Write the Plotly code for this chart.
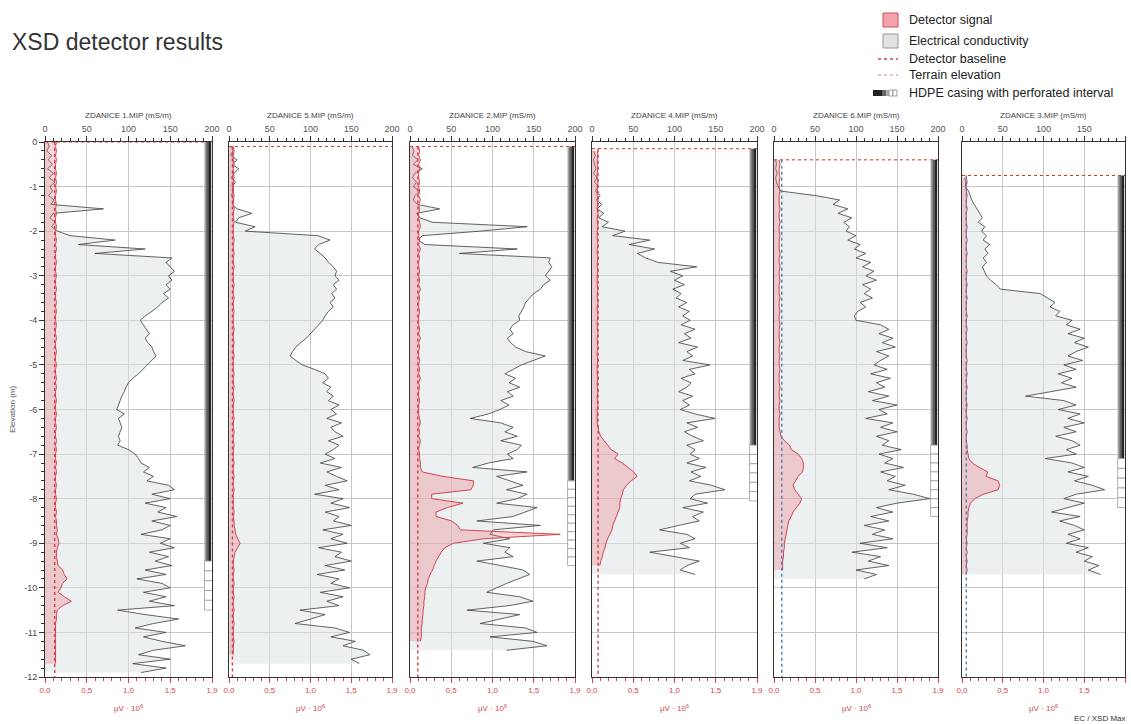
import plotly.graph_objects as go

W, H = 1131, 724

# ---------------- data ----------------
panel_names = ["ZDANICE 1.MIP (mS/m)", "ZDANICE 5.MIP (mS/m)", "ZDANICE 2.MIP (mS/m)",
               "ZDANICE 4.MIP (mS/m)", "ZDANICE 6.MIP (mS/m)", "ZDANICE 3.MIP (mS/m)"]

depth_grid = [
    0.0, -0.1, -0.2, -0.3, -0.4, -0.5, -0.6, -0.7, -0.8, -0.9,
    -1.0, -1.1, -1.2, -1.3, -1.4, -1.5, -1.6, -1.7, -1.8, -1.9,
    -2.0, -2.1, -2.2, -2.3, -2.4, -2.5, -2.6, -2.7, -2.8, -2.9,
    -3.0, -3.1, -3.2, -3.3, -3.4, -3.5, -3.6, -3.7, -3.8, -3.9,
    -4.0, -4.1, -4.2, -4.3, -4.4, -4.5, -4.6, -4.7, -4.8, -4.9,
    -5.0, -5.1, -5.2, -5.3, -5.4, -5.5, -5.6, -5.7, -5.8, -5.9,
    -6.0, -6.1, -6.2, -6.3, -6.4, -6.5, -6.6, -6.7, -6.8, -6.9,
    -7.0, -7.1, -7.2, -7.3, -7.4, -7.5, -7.6, -7.7, -7.8, -7.9,
    -8.0, -8.1, -8.2, -8.3, -8.4, -8.5, -8.6, -8.7, -8.8, -8.9,
    -9.0, -9.1, -9.2, -9.3, -9.4, -9.5, -9.6, -9.7, -9.8, -9.9,
    -10.0, -10.1, -10.2, -10.3, -10.4, -10.5, -10.6, -10.7, -10.8, -10.9,
    -11.0, -11.1, -11.2, -11.3, -11.4, -11.5, -11.6, -11.7, -11.8, -11.9,
    -12.0]

terrain = [0.0, -0.1, -0.1, -0.15, -0.4, -0.75]
baseline = [0.11, 0.04, 0.09, 0.07, 0.09, 0.05]
baseline_blue = [False, False, False, False, True, True]
casing_bottom = [-9.4, None, -7.6, -6.8, -6.8, -7.1]
perforated_bottom = [-10.5, None, -9.5, -8.05, -8.4, -8.2]

ec_start = [0.0, -0.1, -0.1, -0.2, -0.4, -0.8]
det_start = [0.0, -0.1, -0.1, -0.2, -0.4, -0.8]

# Electrical conductivity (mS/m), 0.1 m steps from ec_start
ec1 = [3, 5, 2, 8, 4, 9, 3, 10, 5, 12,
       6, 9, 4, 11, 7, 70, 10, 6, 12, 8,
       15, 30, 84, 40, 120, 60, 152, 145, 150, 155,
       148, 152, 145, 150, 142, 148, 140, 135, 128, 120,
       114, 118, 122, 125, 120, 123, 128, 130, 133, 128,
       122, 118, 112, 105, 100, 97, 95, 92, 90, 88,
       86, 95, 88, 90, 92, 90, 88, 90, 87, 100,
       108, 112, 115, 125, 118, 130, 122, 148, 155, 128,
       150, 120, 145, 135, 158, 128, 150, 140, 115, 150,
       138, 155, 125, 148, 132, 152, 120, 145, 110, 140,
       150, 118, 145, 125, 155, 87, 120, 160, 130, 108,
       145, 118, 140, 168, 130, 112, 150, 105, 145, 115]
ec2 = [3, 5, 2, 10, 4, 12, 6, 3, 8, 4,
       5, 3, 6, 4, 10, 28, 12, 8, 32, 20,
       109, 124, 110, 105, 112, 118, 122, 128, 132, 130,
       135, 128, 132, 126, 130, 124, 128, 122, 118, 115,
       110, 105, 100, 95, 88, 82, 78, 75, 82, 90,
       105, 118, 122, 115, 125, 120, 128, 122, 135, 125,
       132, 120, 138, 125, 130, 140, 122, 135, 128, 118,
       130, 112, 138, 120, 132, 145, 118, 135, 105, 140,
       125, 148, 118, 135, 128, 150, 115, 140, 125, 145,
       110, 138, 130, 150, 118, 142, 108, 135, 125, 148,
       112, 140, 120, 135, 87, 118, 100, 81, 130, 148,
       125, 155, 140, 165, 173, 150, 160]
ec3 = [2, 5, 3, 10, 4, 15, 6, 3, 8, 4,
       12, 6, 4, 9, 36, 8, 12, 27, 142, 85,
       15, 10, 18, 130, 60, 170, 168, 172, 168, 164,
       170, 162, 158, 150, 145, 140, 138, 135, 132, 133,
       125, 121, 125, 118, 122, 128, 140, 164, 150, 135,
       125, 115, 128, 120, 133, 118, 125, 110, 120, 109,
       95, 73, 110, 125, 115, 130, 110, 135, 130, 118,
       125, 95, 76, 142, 105, 120, 137, 117, 142, 130,
       105, 154, 140, 125, 81, 158, 101, 97, 121, 89,
       121, 115, 125, 81, 110, 137, 145, 130, 117, 105,
       93, 133, 149, 120, 69, 133, 110, 85, 140, 154,
       97, 149, 166, 117]
ec4 = [2, 4, 2, 3, 5, 2, 6, 3, 8, 4,
       10, 5, 12, 6, 14, 8, 20, 12, 40, 25,
       70, 45, 76, 55, 65, 80, 127, 95, 110, 100,
       112, 98, 108, 102, 115, 105, 118, 110, 119, 108,
       125, 112, 120, 105, 128, 115, 122, 110, 143, 118,
       125, 108, 120, 115, 105, 122, 110, 118, 107, 125,
       149, 115, 128, 112, 122, 135, 115, 125, 119, 130,
       115, 138, 120, 132, 118, 145, 161, 125, 119, 140,
       110, 135, 122, 130, 105, 82, 115, 125, 107, 118,
       70, 100, 130, 115, 107, 125]
ec5 = [2, 3, 2, 4, 2, 3, 5, 8, 50, 80,
       72, 90, 78, 95, 85, 92, 88, 100, 90, 105,
       98, 112, 100, 118, 108, 122, 112, 125, 108, 118,
       110, 120, 105, 112, 102, 98, 100, 130, 140, 128,
       145, 132, 148, 125, 140, 130, 122, 138, 118, 142,
       125, 135, 115, 140, 120, 150, 128, 138, 112, 145,
       130, 150, 125, 140, 132, 155, 128, 145, 135, 158,
       130, 148, 138, 160, 140, 170, 190, 150, 125, 145,
       118, 140, 110, 135, 120, 145, 105, 138, 95, 130,
       115, 140, 100, 125, 110]
ec6 = [3, 5, 4, 8, 10, 12, 15, 18, 22, 25,
       20, 28, 24, 30, 26, 34, 28, 32, 26, 30,
       25, 28, 30, 35, 42, 47, 96, 105, 114, 108,
       120, 115, 135, 128, 145, 130, 150, 138, 155, 140,
       130, 148, 125, 140, 118, 135, 122, 140, 110, 78,
       125, 140, 118, 145, 130, 150, 125, 140, 115, 135,
       145, 128, 140, 102, 135, 150, 130, 155, 138, 160,
       175, 140, 125, 150, 130, 110, 145, 120, 138, 150,
       130, 145, 128, 155, 140, 160, 150, 168, 155, 170]

# Detector signal (uV x 10^6), 0.1 m steps from det_start
det1 = [0.13, 0.12, 0.13, 0.12, 0.13, 0.12, 0.12, 0.13, 0.12, 0.13,
        0.12, 0.13, 0.12, 0.12, 0.13, 0.12, 0.13, 0.12, 0.12, 0.13,
        0.12, 0.12, 0.13, 0.12, 0.13, 0.12, 0.12, 0.13, 0.12, 0.12,
        0.13, 0.12, 0.12, 0.13, 0.12, 0.12, 0.13, 0.12, 0.13, 0.12,
        0.12, 0.13, 0.12, 0.12, 0.13, 0.12, 0.12, 0.13, 0.12, 0.12,
        0.13, 0.12, 0.12, 0.13, 0.12, 0.13, 0.12, 0.12, 0.13, 0.12,
        0.12, 0.13, 0.12, 0.12, 0.13, 0.12, 0.12, 0.13, 0.12, 0.13,
        0.12, 0.12, 0.13, 0.12, 0.13, 0.12, 0.12, 0.13, 0.12, 0.12,
        0.13, 0.12, 0.12, 0.13, 0.12, 0.13, 0.13, 0.14, 0.13, 0.15,
        0.16, 0.14, 0.13, 0.13, 0.14, 0.15, 0.20, 0.22, 0.25, 0.20,
        0.18, 0.15, 0.22, 0.30, 0.20, 0.14, 0.13, 0.13, 0.12, 0.12,
        0.12, 0.12, 0.12, 0.12, 0.12, 0.12, 0.12, 0.12]
det2 = [0.05, 0.06, 0.05, 0.05, 0.06, 0.05, 0.05, 0.06, 0.05, 0.05,
        0.05, 0.06, 0.05, 0.05, 0.06, 0.05, 0.05, 0.06, 0.05, 0.05,
        0.05, 0.06, 0.05, 0.05, 0.06, 0.05, 0.05, 0.06, 0.05, 0.05,
        0.05, 0.06, 0.05, 0.05, 0.06, 0.05, 0.05, 0.06, 0.05, 0.05,
        0.05, 0.06, 0.05, 0.05, 0.06, 0.05, 0.05, 0.06, 0.05, 0.05,
        0.05, 0.06, 0.05, 0.05, 0.06, 0.05, 0.05, 0.06, 0.05, 0.05,
        0.05, 0.06, 0.05, 0.05, 0.06, 0.05, 0.05, 0.06, 0.05, 0.05,
        0.05, 0.06, 0.05, 0.05, 0.06, 0.05, 0.05, 0.06, 0.05, 0.05,
        0.05, 0.05, 0.06, 0.05, 0.06, 0.06, 0.07, 0.08, 0.10, 0.13,
        0.10, 0.07, 0.06, 0.05, 0.05, 0.06, 0.05, 0.05, 0.06, 0.05,
        0.05, 0.06, 0.05, 0.05, 0.06, 0.05, 0.05, 0.06, 0.05, 0.05,
        0.05, 0.06, 0.05, 0.05, 0.05]
det3 = [0.10, 0.11, 0.10, 0.12, 0.10, 0.11, 0.10, 0.10, 0.11, 0.10,
        0.11, 0.10, 0.12, 0.10, 0.11, 0.10, 0.10, 0.11, 0.12, 0.10,
        0.10, 0.11, 0.10, 0.12, 0.10, 0.11, 0.10, 0.10, 0.11, 0.10,
        0.11, 0.10, 0.12, 0.10, 0.11, 0.10, 0.10, 0.11, 0.10, 0.10,
        0.10, 0.11, 0.10, 0.12, 0.10, 0.11, 0.10, 0.10, 0.11, 0.10,
        0.11, 0.10, 0.12, 0.10, 0.11, 0.10, 0.10, 0.11, 0.10, 0.10,
        0.10, 0.11, 0.12, 0.10, 0.11, 0.10, 0.12, 0.11, 0.10, 0.11,
        0.11, 0.12, 0.12, 0.14, 0.38, 0.73, 0.73, 0.70, 0.25, 0.25,
        0.61, 0.43, 0.30, 0.30, 0.48, 0.55, 0.58, 1.73, 0.85, 0.50,
        0.40, 0.36, 0.33, 0.30, 0.28, 0.26, 0.23, 0.21, 0.20, 0.18,
        0.17, 0.17, 0.16, 0.16, 0.15, 0.15, 0.14, 0.14, 0.13, 0.13,
        0.13, 0.12]
det4 = [0.06, 0.07, 0.06, 0.06, 0.07, 0.06, 0.06, 0.07, 0.06, 0.06,
        0.06, 0.07, 0.06, 0.06, 0.07, 0.06, 0.06, 0.07, 0.06, 0.06,
        0.06, 0.07, 0.06, 0.06, 0.07, 0.06, 0.06, 0.07, 0.06, 0.06,
        0.06, 0.07, 0.06, 0.06, 0.07, 0.06, 0.06, 0.07, 0.06, 0.06,
        0.06, 0.07, 0.06, 0.06, 0.07, 0.06, 0.06, 0.07, 0.06, 0.06,
        0.06, 0.07, 0.06, 0.06, 0.07, 0.06, 0.06, 0.07, 0.06, 0.06,
        0.06, 0.06, 0.07, 0.08, 0.10, 0.14, 0.18, 0.22, 0.30, 0.26,
        0.35, 0.42, 0.48, 0.52, 0.45, 0.40, 0.36, 0.35, 0.33, 0.32,
        0.32, 0.30, 0.28, 0.26, 0.24, 0.23, 0.20, 0.18, 0.16, 0.15,
        0.13, 0.12, 0.10, 0.09]
det5 = [0.06, 0.07, 0.06, 0.06, 0.07, 0.06, 0.06, 0.07, 0.06, 0.06,
        0.06, 0.07, 0.06, 0.06, 0.07, 0.06, 0.06, 0.07, 0.06, 0.06,
        0.06, 0.07, 0.06, 0.06, 0.07, 0.06, 0.06, 0.07, 0.06, 0.06,
        0.06, 0.07, 0.06, 0.06, 0.07, 0.06, 0.06, 0.07, 0.06, 0.06,
        0.06, 0.07, 0.06, 0.06, 0.07, 0.06, 0.06, 0.07, 0.06, 0.06,
        0.06, 0.07, 0.06, 0.06, 0.07, 0.06, 0.06, 0.07, 0.06, 0.06,
        0.06, 0.07, 0.08, 0.12, 0.18, 0.20, 0.28, 0.32, 0.34, 0.34,
        0.33, 0.28, 0.25, 0.22, 0.24, 0.28, 0.32, 0.30, 0.26, 0.22,
        0.20, 0.17, 0.16, 0.15, 0.14, 0.13, 0.12, 0.12, 0.11, 0.11,
        0.10, 0.10, 0.10]
det6 = [0.05, 0.06, 0.05, 0.05, 0.06, 0.05, 0.05, 0.06, 0.05, 0.05,
        0.05, 0.06, 0.05, 0.05, 0.06, 0.05, 0.05, 0.06, 0.05, 0.05,
        0.05, 0.06, 0.05, 0.05, 0.06, 0.05, 0.05, 0.06, 0.05, 0.05,
        0.05, 0.06, 0.05, 0.05, 0.06, 0.05, 0.05, 0.06, 0.05, 0.05,
        0.05, 0.06, 0.05, 0.05, 0.06, 0.05, 0.05, 0.06, 0.05, 0.05,
        0.05, 0.06, 0.05, 0.05, 0.06, 0.05, 0.05, 0.06, 0.05, 0.05,
        0.06, 0.06, 0.07, 0.08, 0.12, 0.20, 0.30, 0.28, 0.42, 0.44,
        0.42, 0.25, 0.15, 0.10, 0.08, 0.07, 0.07, 0.06, 0.06, 0.06,
        0.06, 0.05, 0.06, 0.05, 0.06, 0.05, 0.06, 0.05, 0.06, 0.05]

ec_series = [ec1, ec2, ec3, ec4, ec5, ec6]
det_series = [det1, det2, det3, det4, det5, det6]

ec_ticks = [0, 50, 100, 150, 200]
det_tickvals = [0, 0.475, 0.95, 1.425, 1.9]
det_ticktext = [["0,0", "0,5", "1,0", "1,5", "1,9"]] * 5 + [["0,0", "0,5", "1,0", "1,5", "1,5"]]
elev_ticks = [0, -1, -2, -3, -4, -5, -6, -7, -8, -9, -10, -11, -12]

# ---------------- layout geometry (pixels) ----------------
panel_px = [(45, 212), (229, 392), (410, 575), (592, 757), (774, 938), (962, 1125)]
y_top_px, y_bot_px = 142, 677
ydom = [1 - y_bot_px / H, 1 - y_top_px / H]

FONT = "Arial, Liberation Sans, sans-serif"
RED = "#d2454f"
GRID = "#c6c6c6"
AX = "#333333"


def px(x):
    return x / W


def py(y):
    return 1 - y / H


fig = go.Figure()
layout = dict(width=W, height=H, margin=dict(l=0, r=0, t=0, b=0, pad=0, autoexpand=False),
              paper_bgcolor="white", plot_bgcolor="white", showlegend=False,
              font=dict(family=FONT, color="#333"))
shapes = []
annotations = []


def note(text, x, y, size, color, xanchor="center", angle=0):
    annotations.append(dict(text=text, x=px(x), y=py(y), xref="paper", yref="paper",
                            xanchor=xanchor, yanchor="middle", showarrow=False,
                            textangle=angle, font=dict(size=size, color=color)))


for k in range(6):
    ec_id = "x" if k == 0 else f"x{2 * k + 1}"
    det_id = f"x{2 * k + 2}"
    y_id = "y" if k == 0 else f"y{k + 1}"
    ec_name = "xaxis" if k == 0 else f"xaxis{2 * k + 1}"
    det_name = f"xaxis{2 * k + 2}"
    y_name = "yaxis" if k == 0 else f"yaxis{k + 1}"
    dom = [px(panel_px[k][0]), px(panel_px[k][1])]

    layout[ec_name] = dict(
        domain=dom, anchor=y_id, side="top", range=[0, 200], automargin=False,
        tickmode="array", tickvals=ec_ticks, ticks="outside", ticklen=5, tickcolor=AX,
        minor=dict(tickmode="array", tickvals=list(range(0, 201, 10)), ticks="outside",
                   ticklen=3, tickcolor=AX, showgrid=False),
        showgrid=True, gridcolor=GRID, gridwidth=1, zeroline=False,
        showline=True, linecolor=AX, linewidth=1,
        tickfont=dict(size=9, color="#555"), fixedrange=True)
    layout[det_name] = dict(
        domain=dom, anchor=y_id, overlaying=ec_id, side="bottom", range=[0, 1.9],
        automargin=False,
        tickmode="array", tickvals=det_tickvals, ticktext=det_ticktext[k],
        ticks="outside", ticklen=5, tickcolor=RED,
        minor=dict(tickmode="array", tickvals=[i * 0.095 for i in range(21)],
                   ticks="outside", ticklen=3, tickcolor=RED, showgrid=False),
        showgrid=False, zeroline=False, showline=True, linecolor=AX, linewidth=1,
        tickfont=dict(size=8, color=RED), fixedrange=True)
    yax = dict(domain=ydom, anchor=ec_id, range=[-12, 0], automargin=False,
               tickmode="array", tickvals=elev_ticks,
               showgrid=True, gridcolor=GRID, gridwidth=1, zeroline=False,
               showline=True, mirror=True, linecolor=AX, linewidth=1, fixedrange=True)
    if k == 0:
        yax.update(ticktext=[str(v) for v in elev_ticks], ticks="outside", ticklen=5,
                   tickcolor=AX, tickfont=dict(size=9, color="#444"),
                   minor=dict(tickmode="array",
                              tickvals=[-i * 0.2 for i in range(61)],
                              ticks="outside", ticklen=3, tickcolor=AX, showgrid=False))
    else:
        yax.update(showticklabels=False, ticks="")
    layout[y_name] = yax

    # EC profile
    i0 = depth_grid.index(ec_start[k])
    ec = ec_series[k]
    fig.add_trace(go.Scatter(
        x=ec, y=depth_grid[i0:i0 + len(ec)], xaxis=ec_id, yaxis=y_id,
        mode="lines", line=dict(color="#3c3c3c", width=0.8),
        fill="tozerox", fillcolor="rgba(222,228,228,0.55)", hoverinfo="skip"))

    # terrain elevation line
    fig.add_trace(go.Scatter(
        x=[0, 200], y=[terrain[k], terrain[k]], xaxis=ec_id, yaxis=y_id,
        mode="lines", line=dict(color="#c0392b", width=1, dash="dot"), hoverinfo="skip"))

    # detector signal
    j0 = depth_grid.index(det_start[k])
    det = det_series[k]
    fig.add_trace(go.Scatter(
        x=det, y=depth_grid[j0:j0 + len(det)], xaxis=det_id, yaxis=y_id,
        mode="lines", line=dict(color=RED, width=1),
        fill="tozerox", fillcolor="rgba(236,112,126,0.30)", hoverinfo="skip"))

    # detector baseline
    bcol = "#4a7fb5" if baseline_blue[k] else "#d23c4a"
    fig.add_trace(go.Scatter(
        x=[baseline[k], baseline[k]], y=[terrain[k], -12], xaxis=det_id, yaxis=y_id,
        mode="lines", line=dict(color=bcol, width=1.4, dash="dot"), hoverinfo="skip"))

    # HDPE casing
    if casing_bottom[k] is not None:
        strips = [(191, 193, "#a0a0a0"), (193, 195.5, "#606060"), (195.5, 199, "#262626")]
        for x0, x1, col in strips:
            shapes.append(dict(type="rect", xref=ec_id, yref=y_id, x0=x0, x1=x1,
                               y0=casing_bottom[k], y1=terrain[k],
                               fillcolor=col, line=dict(width=0), layer="above"))
        span = casing_bottom[k] - perforated_bottom[k]
        n = max(1, round(span / 0.2))
        h = span / n
        for s in range(n):
            shapes.append(dict(type="rect", xref=ec_id, yref=y_id, x0=191, x1=201,
                               y0=casing_bottom[k] - (s + 1) * h, y1=casing_bottom[k] - s * h,
                               fillcolor="white", line=dict(color="#9a9a9a", width=0.8),
                               layer="above"))

    cx = (panel_px[k][0] + panel_px[k][1]) / 2
    note(panel_names[k], cx, 115, 8, "#444")
    note("µV · 10<sup>6</sup>", cx, 708, 8, RED)

# title & labels
note("XSD detector results", 10, 42, 23, "#333", xanchor="left")
note("Elevation (m)", 12, 410, 8, "#555", angle=-90)
note("EC / XSD Max", 1128, 718, 8, "#333", xanchor="right")

# legend (manual)
leg_items = ["Detector signal", "Electrical conductivity", "Detector baseline",
             "Terrain elevation", "HDPE casing with perforated interval"]
leg_y = [20, 41, 59, 75, 93]
for t, yy in zip(leg_items, leg_y):
    note(t, 907, yy, 12.5, "#222", xanchor="left")


def prect(x0, y0, x1, y1, fill, line_col=None, lw=0):
    shapes.append(dict(type="rect", xref="paper", yref="paper", x0=px(x0), x1=px(x1),
                       y0=py(y1), y1=py(y0), fillcolor=fill,
                       line=dict(color=line_col or fill, width=lw)))


prect(883, 13, 898, 27, "#f4a2ac", "#d0505e", 1)
prect(883, 34, 898, 48, "#e2e2e2", "#9a9a9a", 1)
shapes.append(dict(type="line", xref="paper", yref="paper", x0=px(878), x1=px(898),
                   y0=py(59), y1=py(59), line=dict(color="#d23c4a", width=1.4, dash="dot")))
shapes.append(dict(type="line", xref="paper", yref="paper", x0=px(878), x1=px(898),
                   y0=py(75), y1=py(75), line=dict(color="#c98a8a", width=1, dash="dot")))
prect(873, 90, 882, 96, "#222222")
prect(882, 90, 886, 96, "#666666")
prect(886, 90, 889, 96, "#aaaaaa")
prect(889, 90, 893, 96, "white", "#888888", 0.8)
prect(893, 90, 897, 96, "white", "#888888", 0.8)

layout["shapes"] = shapes
layout["annotations"] = annotations
fig.update_layout(**layout)
fig.write_html("out.html", config={"displayModeBar": False},
               post_script="document.body.style.margin='0px';document.body.style.overflow='hidden';")
